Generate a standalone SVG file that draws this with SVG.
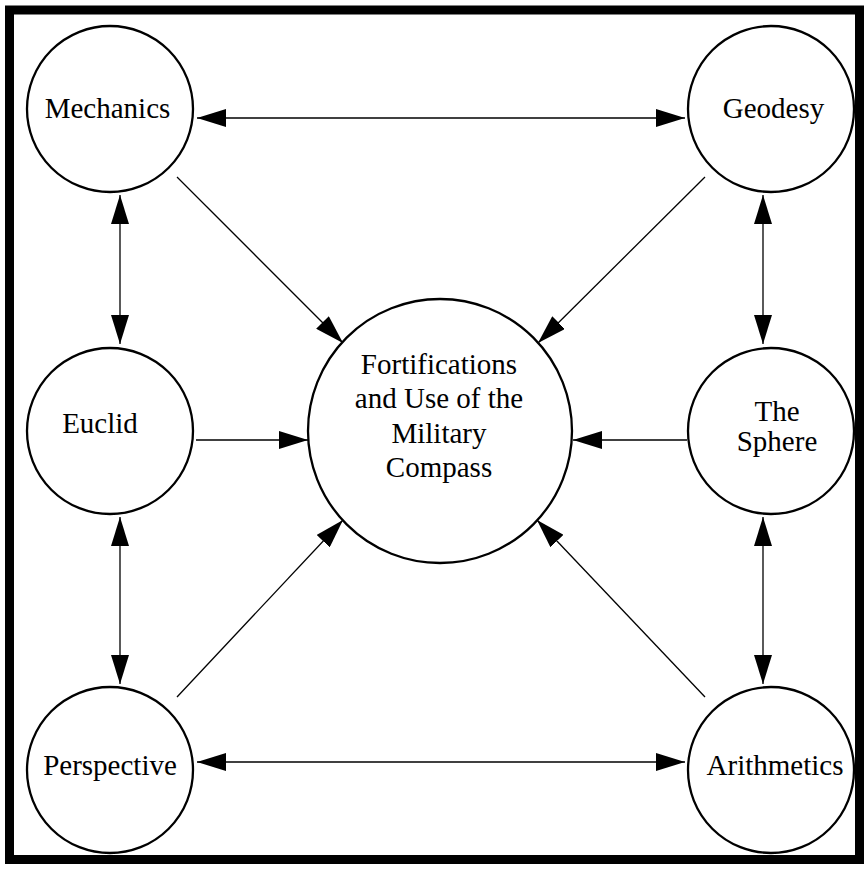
<svg xmlns="http://www.w3.org/2000/svg" width="864" height="870" viewBox="0 0 864 870">
<style>
.node{fill:#fff;stroke:#000;stroke-width:2.3}
.lbl{font-family:"Liberation Serif","Times New Roman",serif;font-size:29px;fill:#000;text-anchor:middle}
.edge{stroke:#000;stroke-width:1.3;fill:none}
</style>
<defs>
<marker id="ah" markerUnits="userSpaceOnUse" viewBox="0 0 29 18" markerWidth="29" markerHeight="18" refX="29" refY="9" orient="auto-start-reverse">
<path d="M0,0 L29,9 L0,18 z" fill="#000"/>
</marker>
</defs>
<rect x="0" y="0" width="864" height="870" fill="#fff"/>
<rect x="9.5" y="10" width="850" height="849.5" fill="none" stroke="#000" stroke-width="9"/>
<g id="connectors">
<line class="edge" x1="197" y1="118" x2="685" y2="118" marker-start="url(#ah)" marker-end="url(#ah)"/>
<line class="edge" x1="197" y1="762" x2="685" y2="762" marker-start="url(#ah)" marker-end="url(#ah)"/>
<line class="edge" x1="120" y1="195" x2="120" y2="344" marker-start="url(#ah)" marker-end="url(#ah)"/>
<line class="edge" x1="120" y1="517" x2="120" y2="684" marker-start="url(#ah)" marker-end="url(#ah)"/>
<line class="edge" x1="763" y1="195" x2="763" y2="344" marker-start="url(#ah)" marker-end="url(#ah)"/>
<line class="edge" x1="763" y1="517" x2="763" y2="684" marker-start="url(#ah)" marker-end="url(#ah)"/>
<line class="edge" x1="177" y1="177" x2="343" y2="343" marker-end="url(#ah)"/>
<line class="edge" x1="705" y1="177" x2="538" y2="343" marker-end="url(#ah)"/>
<line class="edge" x1="177" y1="697" x2="343" y2="520" marker-end="url(#ah)"/>
<line class="edge" x1="705" y1="697" x2="537" y2="520" marker-end="url(#ah)"/>
<line class="edge" x1="196" y1="440" x2="308" y2="440" marker-end="url(#ah)"/>
<line class="edge" x1="687" y1="440" x2="573" y2="440" marker-end="url(#ah)"/>
</g>
<g id="center">
<circle class="node" cx="440" cy="431" r="132"/>
<text class="lbl" x="439" y="374">Fortifications</text>
<text class="lbl" x="439" y="408">and Use of the</text>
<text class="lbl" x="439" y="443">Military</text>
<text class="lbl" x="439" y="477">Compass</text>
</g>
<g id="mechanics">
<circle class="node" cx="110" cy="109" r="83"/>
<text class="lbl" x="107.5" y="118">Mechanics</text>
</g>
<g id="geodesy">
<circle class="node" cx="771" cy="109" r="83"/>
<text class="lbl" x="773.5" y="118">Geodesy</text>
</g>
<g id="euclid">
<circle class="node" cx="110" cy="431" r="83"/>
<text class="lbl" x="100" y="433">Euclid</text>
</g>
<g id="sphere">
<circle class="node" cx="771" cy="431" r="83"/>
<text class="lbl" x="777" y="421">The</text>
<text class="lbl" x="777" y="451">Sphere</text>
</g>
<g id="perspective">
<circle class="node" cx="110" cy="770" r="83"/>
<text class="lbl" x="110" y="775">Perspective</text>
</g>
<g id="arithmetics">
<circle class="node" cx="771" cy="770" r="83"/>
<text class="lbl" x="775" y="775">Arithmetics</text>
</g>
</svg>
